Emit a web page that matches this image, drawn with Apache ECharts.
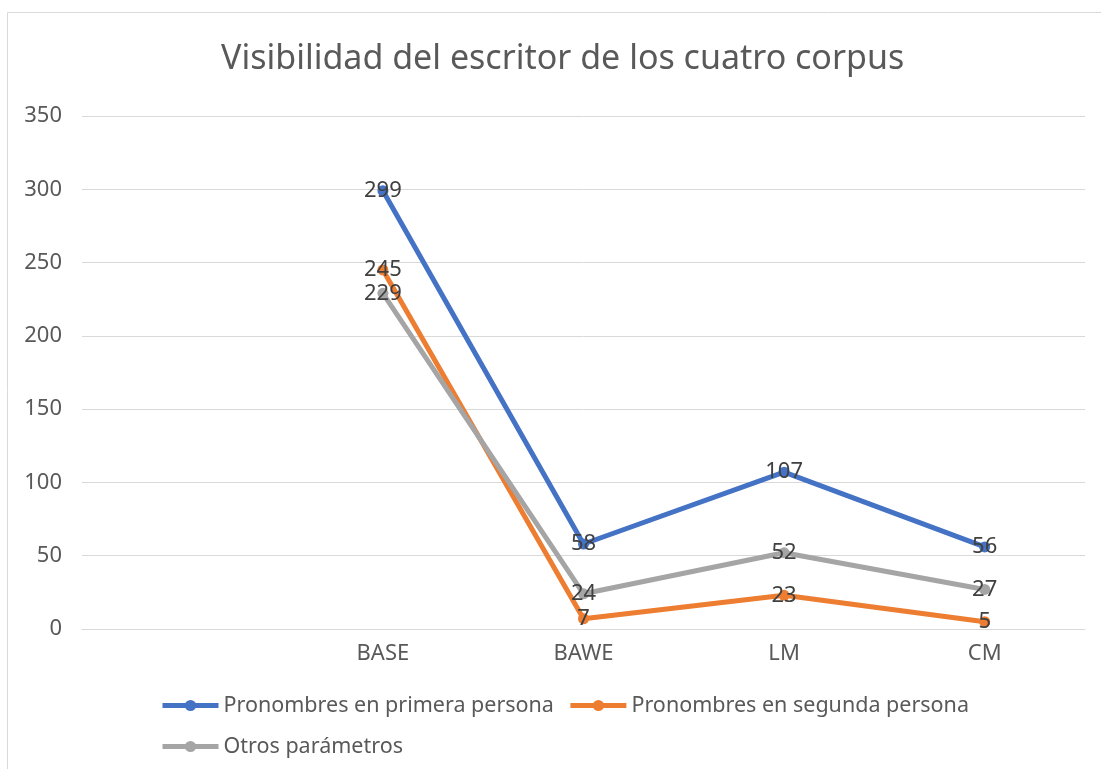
<!DOCTYPE html>
<html>
<head>
<meta charset="utf-8">
<script src="https://cdn.jsdelivr.net/npm/echarts@6/dist/echarts.min.js"></script>
<style>
  html, body { margin: 0; padding: 0; background: #fff; }
  #chart { width: 1101px; height: 769px; }
</style>
</head>
<body>
<div id="chart"></div>
<script>
// categorias (la primera va vacia, como en el original)
const categories = ['', 'BASE', 'BAWE', 'LM', 'CM']
const seriesNames = [
  'Pronombres en primera persona',
  'Pronombres en segunda persona',
  'Otros parámetros'
]
const primera = [null, 299, 58, 107, 56]
const segunda = [null, 245, 7, 23, 5]
const otros = [null, 229, 24, 52, 27]
const yTicks = { min: 0, max: 350, interval: 50 }
const colors = ['#4472C4', '#ED7D31', '#A5A5A5']

const font = 'Noto Sans'
const chart = echarts.init(document.getElementById('chart'))

const makeSeries = (name, data, color) => ({
  name: name,
  type: 'line',
  data: data,
  symbol: 'circle',
  symbolSize: 11,
  lineStyle: { width: 5, color: color },
  itemStyle: { color: color },
  label: {
    show: true,
    position: 'inside',
    color: '#404040',
    fontSize: 22,
    fontFamily: font
  },
  animation: false
})

const option = {
  color: colors,
  title: {
    text: 'Visibilidad del escritor de los cuatro corpus',
    left: 216,
    top: 37,
    textStyle: {
      fontFamily: font,
      fontSize: 34,
      fontWeight: 'normal',
      color: '#595959'
    }
  },
  legend: {
    left: 155,
    top: 687,
    width: 840,
    itemWidth: 56,
    itemHeight: 14,
    itemGap: 14,
    lineStyle: { width: 5 },
    textStyle: {
      fontFamily: font,
      fontSize: 21.5,
      color: '#595959',
      lineHeight: 27
    }
  },
  grid: {
    left: 82,
    right: 16,
    top: 116,
    bottom: 140
  },
  graphic: [{
    type: 'rect',
    shape: { x: 7.5, y: 12.5, width: 1200, height: 900 },
    style: { fill: 'none', stroke: '#d9d9d9', lineWidth: 1 },
    silent: true
  }],
  xAxis: {
    type: 'category',
    data: categories,
    boundaryGap: true,
    axisLine: { lineStyle: { color: '#d9d9d9', width: 1 } },
    axisTick: { show: false },
    axisLabel: {
      margin: 14,
      fontFamily: font,
      fontSize: 22,
      color: '#595959'
    }
  },
  yAxis: {
    type: 'value',
    min: yTicks.min,
    max: yTicks.max,
    interval: yTicks.interval,
    axisLine: { show: false },
    axisTick: { show: false },
    splitLine: { lineStyle: { color: '#d9d9d9', width: 1 } },
    axisLabel: {
      margin: 20,
      fontFamily: font,
      fontSize: 22,
      color: '#595959'
    }
  },
  series: [
    makeSeries(seriesNames[0], primera, colors[0]),
    makeSeries(seriesNames[1], segunda, colors[1]),
    makeSeries(seriesNames[2], otros, colors[2])
  ]
}

chart.setOption(option)
</script>
</body>
</html>
